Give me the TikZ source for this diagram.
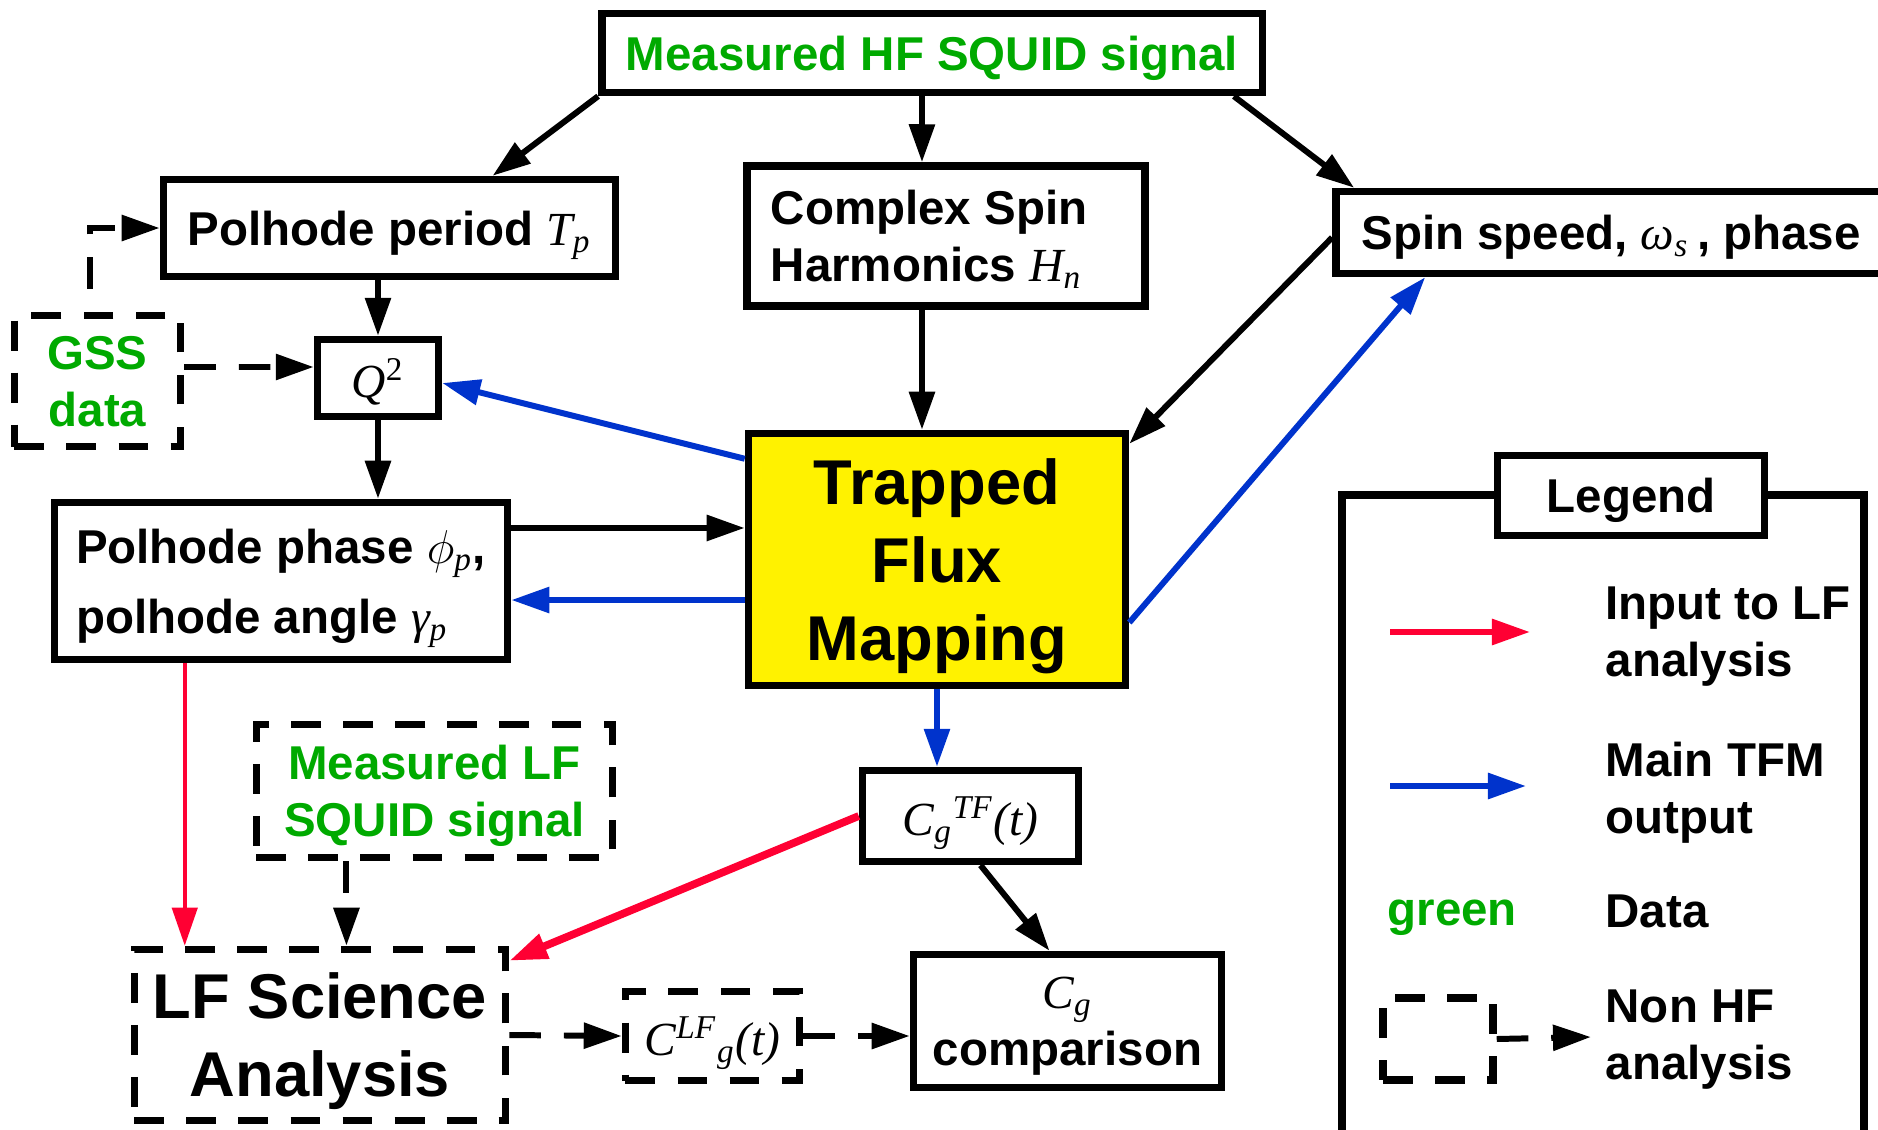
\RequirePackage{fix-cm}
\documentclass[tikz,border=0pt]{standalone}
\usepackage[no-math]{fontspec}
\setmainfont{Liberation Sans}
\newfontfamily\tmsfont{Liberation Serif}
\usetikzlibrary{arrows.meta}
\definecolor{datagreen}{RGB}{0,170,0}
\definecolor{tfmblue}{RGB}{0,51,204}
\definecolor{lfred}{RGB}{255,0,51}
\newcommand{\boxfont}{\bfseries\fontsize{13.5}{16.2}\selectfont}
\newcommand{\bigboxfont}{\bfseries\fontsize{18}{22.2}\selectfont}
\newcommand{\mvar}[1]{{\tmsfont\mdseries\itshape #1}}
\tikzset{
  blk/.style={draw, line width=2.1pt, fill=white, inner sep=0pt, align=center, text depth=0pt, font=\boxfont},
  dsh/.style={blk, dash pattern=on 8.5pt off 6.3pt},
  arr/.style={line width=1.7pt, -{Triangle[length=0.38cm,width=0.25cm]}},
  darr/.style={arr, dash pattern=on 9pt off 6.5pt},
  tfmarr/.style={arr, draw=tfmblue},
  lfarr/.style={arr, draw=lfred},
  lgd/.style={anchor=west, inner sep=0pt, align=left, font=\boxfont}
}
\begin{document}
\begin{tikzpicture}[x=0.01cm,y=-0.01cm]
\useasboundingbox (0,0) rectangle (1878,1130);

\node (hf) at (932,53) [blk, minimum width=6.6cm, minimum height=0.79cm, text=datagreen] {Measured HF SQUID signal};
\node (pperiod) at (389.5,228) [blk, minimum width=4.52cm, minimum height=0.97cm] {Polhode period \mvar{T}\textsubscript{\mvar{p}}};
\node (complex) at (946,236) [blk, minimum width=3.98cm, minimum height=1.4cm, align=left] {Complex Spin\hspace*{0.34cm}\\Harmonics \mvar{H}\textsubscript{\mvar{n}}\hspace*{0.34cm}};
\node (spin) at (1611,232.5) [blk, minimum width=5.5cm, minimum height=0.82cm] {Spin speed, \mvar{ω}\textsubscript{\mvar{s}}\,, phase};
\node (gss) at (97.5,381) [dsh, minimum width=1.66cm, minimum height=1.31cm, text=datagreen] {GSS\\data};
\node (q2) at (378,378) [blk, minimum width=1.21cm, minimum height=0.77cm] {\mvar{Q}\textsuperscript{\tmsfont\mdseries 2}};
\node (pphase) at (281,581) [blk, minimum width=4.53cm, minimum height=1.57cm, align=left, font=\bfseries\fontsize{13.5}{19.8}\selectfont] {Polhode phase $\phi$\textsubscript{\mvar{p}},\\polhode angle \mvar{γ}\textsubscript{\mvar{p}}};
\node (tfm) at (937,559.5) [blk, fill=yellow, minimum width=3.77cm, minimum height=2.52cm, font=\bigboxfont] {Trapped\\Flux\\Mapping};
\node (cgtf) at (970.5,816) [blk, minimum width=2.16cm, minimum height=0.91cm] {\mvar{C}\textsubscript{\mvar{g}}\textsuperscript{\mvar{TF}}\mvar{(t)}};
\node (mlf) at (434.5,791) [dsh, minimum width=3.56cm, minimum height=1.33cm, text=datagreen] {Measured LF\\SQUID signal};
\node (lfs) at (320,1035) [dsh, minimum width=3.71cm, minimum height=1.71cm, font=\bigboxfont] {LF Science\\Analysis};
\node (clf) at (712.5,1036) [dsh, minimum width=1.74cm, minimum height=0.89cm] {\mvar{C}\textsuperscript{\mvar{LF}}\textsubscript{\mvar{g}}\mvar{(t)}};
\node (cgc) at (1067.5,1021) [blk, minimum width=3.08cm, minimum height=1.33cm] {\mvar{C}\textsubscript{\mvar{g}}\\comparison};

\draw[arr] (hf.south west) -- ([xshift=1.03cm]pperiod.north);
\draw[arr] ([xshift=-0.1cm]hf.south) -- ([xshift=-0.24cm]complex.north);
\draw[arr] ([xshift=-0.32cm]hf.south east) -- ([xshift=0.22cm]spin.north west);
\draw[darr, dash phase=9pt] ([xshift=-0.075cm]gss.north) |- (pperiod.west);
\draw[darr] ([yshift=0.14cm]gss.east) -- ([yshift=0.11cm]q2.west);
\draw[arr] (pperiod.south -| q2.north) -- (q2.north);
\draw[arr] (q2.south) -- (q2.south |- pphase.north);
\draw[tfmarr] ([yshift=-0.29cm]tfm.north west) -- ([yshift=-0.05cm]q2.east);
\coordinate (phin) at ([yshift=0.53cm]pphase.east);
\coordinate (phout) at ([yshift=-0.19cm]pphase.east);
\draw[arr] (phin) -- (phin -| tfm.west);
\draw[tfmarr] (phout -| tfm.west) -- (phout);
\draw[arr] ([xshift=-0.24cm]complex.south) -- ([xshift=-0.24cm]complex.south |- tfm.north);
\draw[arr] ([yshift=-0.05cm]spin.west) -- ([yshift=-0.14cm]tfm.north east);
\draw[tfmarr] ([yshift=-0.63cm]tfm.east) -- ([xshift=0.93cm]spin.south west);
\draw[tfmarr] (tfm.south) -- (tfm.south |- cgtf.north);
\draw[lfarr, line width=1.2pt] ([xshift=1.34cm]pphase.south west) -- ([xshift=1.34cm]pphase.south west |- lfs.north);
\draw[darr] ([xshift=-0.88cm]mlf.south) -- ([xshift=-0.88cm]mlf.south |- lfs.north);
\draw[lfarr, line width=2.2pt] (cgtf.west) -- ([yshift=-0.15cm]lfs.north east);
\draw[arr] ([xshift=0.1cm]cgtf.south) -- ([xshift=-0.18cm]cgc.north);
\draw[darr] (lfs.east) -- (clf.west);
\draw[darr] (clf.east) -- (clf.east -| cgc.west);

\node (legframe) at (1603,820) [draw, line width=2.1pt, minimum width=5.22cm, minimum height=6.5cm] {};
\node (legtitle) at (1631,495.5) [blk, minimum width=2.67cm, minimum height=0.8cm] {Legend};
\coordinate (redA) at (1390,632);
\coordinate (redB) at (1530,632);
\draw[lfarr] (redA) -- (redB);
\node (lfin) at (1605,637) [lgd] {Input to LF\\analysis};
\coordinate (blueA) at (1390,786);
\coordinate (blueB) at (1526,786);
\draw[tfmarr] (blueA) -- (blueB);
\node (tfmout) at (1605,793) [lgd] {Main TFM\\output};
\node (greenword) at (1387,925) [lgd, anchor=base west, text=datagreen] {green};
\node (datatxt) at (1605,927) [lgd, anchor=base west] {Data};
\node (nonhfbox) at (1438,1039) [dsh, minimum width=1.10cm, minimum height=0.82cm] {};
\coordinate (nonhfend) at (1591,1037);
\draw[darr] (nonhfbox.east) -- (nonhfend);
\node (nonhftxt) at (1605,1040) [lgd] {Non HF\\analysis};
\end{tikzpicture}
\end{document}
